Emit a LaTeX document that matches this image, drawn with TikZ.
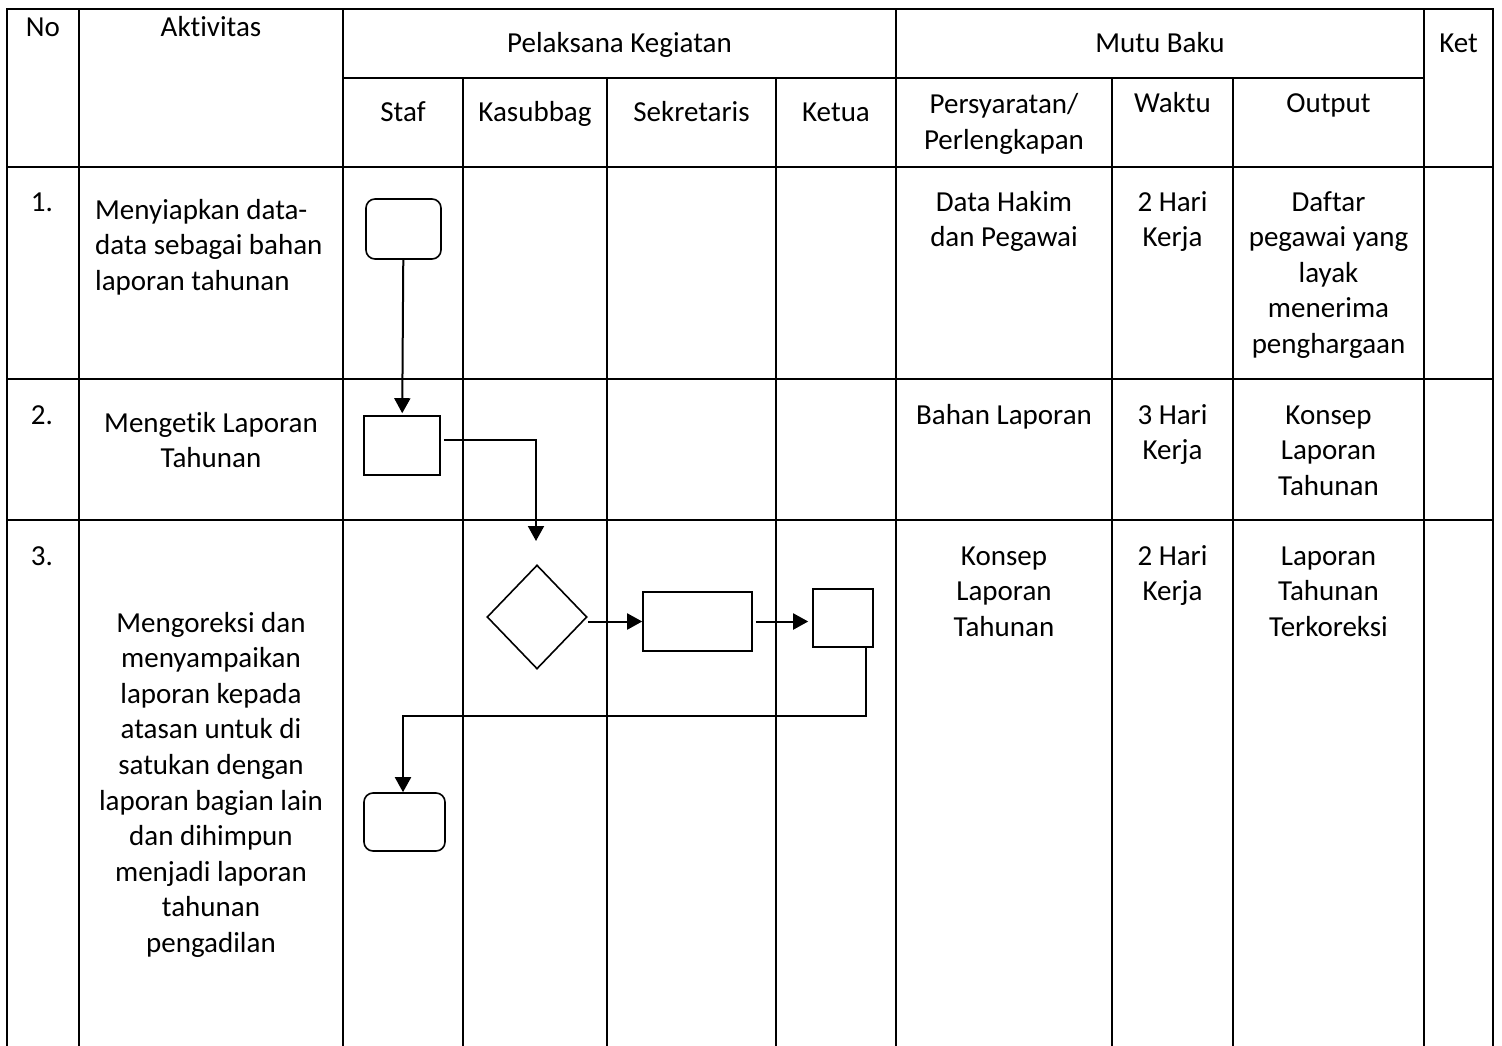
\documentclass[tikz,border=0pt]{standalone}
\usepackage{fontspec}
\setmainfont{Carlito}[Ligatures=NoCommon]
\usetikzlibrary{arrows.meta,shapes.geometric}
\begin{document}
\begin{tikzpicture}[x=1pt,y=-1pt,
  grid/.style={line width=2pt},
  txt/.style={font=\fontsize{29}{35.6}\selectfont, inner sep=0pt, anchor=base},
  mtxt/.style={txt, text width=#1, align=flush center},
  shp/.style={draw, line width=1.6pt, inner sep=0pt},
  flow/.style={line width=2pt, -{Triangle[length=15pt,width=16pt]}}]
\useasboundingbox (0,0) rectangle (1502,1046);
% table grid
\draw[grid] (7,1046) -- (7,9) -- (1493,9) -- (1493,1046);
\foreach \x in {79,343,896,1424} \draw[grid] (\x,9) -- (\x,1046);
\foreach \x in {463,607,776,1112,1233} \draw[grid] (\x,78) -- (\x,1046);
\draw[grid] (343,78) -- (1424,78);
\foreach \y in {167,379,520} \draw[grid] (7,\y) -- (1493,\y);
% header texts
\node[txt] (hno) at (43,37) {No};
\node[txt] (hakt) at (211,37) {Aktivitas};
\node[txt] (hpel) at (619.5,53) {Pelaksana Kegiatan};
\node[txt] (hmutu) at (1160,53) {Mutu Baku};
\node[txt] (hket) at (1458.5,53) {Ket};
\node[txt] (hstaf) at (403,122) {Staf};
\node[txt] (hkas) at (535,122) {Kasubbag};
\node[txt] (hsek) at (691.5,122) {Sekretaris};
\node[txt] (hketua) at (836,122) {Ketua};
\node[mtxt=200pt] (hpers) at (1004,114) {Persyaratan/\\Perlengkapan};
\node[txt] (hwak) at (1172.5,113) {Waktu};
\node[txt] (hout) at (1328.5,113) {Output};
% row 1
\node[txt] (n1) at (42,211) {1.};
\node[txt, anchor=base west, text width=250pt, align=flush left] (a1) at (95,219) {Menyiapkan data-\\data sebagai bahan\\laporan tahunan};
\node[mtxt=200pt] (p1) at (1004,211) {Data Hakim\\dan Pegawai};
\node[mtxt=110pt] (w1) at (1172.5,211) {2 Hari\\Kerja};
\node[mtxt=185pt] (o1) at (1328.5,211) {Daftar\\pegawai yang\\layak\\menerima\\penghargaan};
% row 2
\node[txt] (n2) at (42,424) {2.};
\node[mtxt=250pt] (a2) at (211,432) {Mengetik Laporan\\Tahunan};
\node[txt] (p2) at (1004,424) {Bahan Laporan};
\node[mtxt=110pt] (w2) at (1172.5,424) {3 Hari\\Kerja};
\node[mtxt=185pt] (o2) at (1328.5,424) {Konsep\\Laporan\\Tahunan};
% row 3
\node[txt] (n3) at (42,565) {3.};
\node[mtxt=250pt] (a3) at (211,632) {Mengoreksi dan\\menyampaikan\\laporan kepada\\atasan untuk di\\satukan dengan\\laporan bagian lain\\dan dihimpun\\menjadi laporan\\tahunan\\pengadilan};
\node[mtxt=200pt] (p3) at (1004,565) {Konsep\\Laporan\\Tahunan};
\node[mtxt=110pt] (w3) at (1172.5,565) {2 Hari\\Kerja};
\node[mtxt=185pt] (o3) at (1328.5,565) {Laporan\\Tahunan\\Terkoreksi};
% flow shapes
\node[shp, rounded corners=9pt, minimum width=75pt, minimum height=60pt] (s1) at (403.5,229) {};
\node[shp, minimum width=76pt, minimum height=59pt] (s2) at (402,445.5) {};
\node[shp, diamond, minimum width=100pt, minimum height=104pt] (d1) at (537,617) {};
\node[shp, minimum width=109pt, minimum height=59pt] (s3) at (697.5,621.5) {};
\node[shp, minimum width=60pt, minimum height=58pt] (s4) at (843,618) {};
\node[shp, rounded corners=9pt, minimum width=81pt, minimum height=58pt] (s5) at (404.5,822) {};
% connectors
\coordinate (e1) at (536,541);
\coordinate (bend) at (403,716);
\draw[flow, shorten >=2pt] (s1) -- (s2);
\draw[flow] ([xshift=3pt,yshift=5.5pt]s2.east) -| (e1);
\draw[flow] (d1.east |- s3.west) -- (s3.west);
\draw[flow, shorten <=3pt, shorten >=4pt] (s3.east) -- (s3.east -| s4.west);
\draw[flow] ([xshift=23pt]s4.south) |- (bend) -- (bend |- s5.north);
\end{tikzpicture}
\end{document}
